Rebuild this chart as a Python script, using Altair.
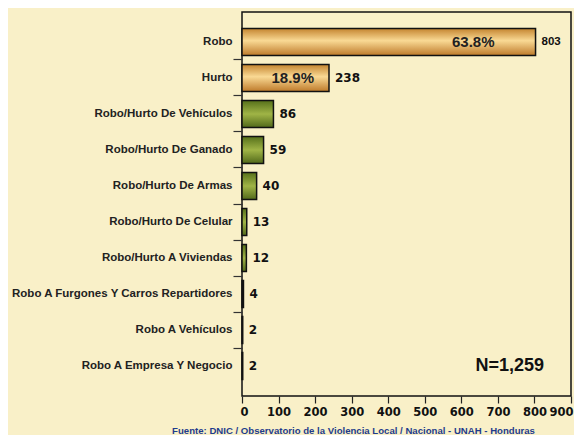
import altair as alt
import pandas as pd

categories = [
    "Robo", "Hurto", "Robo/Hurto De Vehículos", "Robo/Hurto De Ganado",
    "Robo/Hurto De Armas", "Robo/Hurto De Celular", "Robo/Hurto A Viviendas",
    "Robo A Furgones Y Carros Repartidores", "Robo A Vehículos",
    "Robo A Empresa Y Negocio",
]
values = [803, 238, 86, 59, 40, 13, 12, 4, 2, 2]
groups = ["top", "top", "g", "g", "g", "g", "g", "g", "g", "g"]
pct_labels = {"Robo": "63.8%", "Hurto": "18.9%"}
x_ticks = [0, 100, 200, 300, 400, 500, 600, 700, 800, 900]
total_label = "N=1,259"
footer = "Fuente: DNIC / Observatorio de la Violencia Local / Nacional - UNAH - Honduras"

df = pd.DataFrame({"cat": categories, "val": values, "grp": groups})
df["pct"] = df["cat"].map(pct_labels).fillna("")

BG = "#F9F0C8"
orange = {"gradient": "linear", "x1": 0, "y1": 0, "x2": 0, "y2": 1,
          "stops": [{"offset": 0, "color": "#C4842F"},
                    {"offset": 0.45, "color": "#F9D994"},
                    {"offset": 1, "color": "#BE7A2A"}]}
green = {"gradient": "linear", "x1": 0, "y1": 0, "x2": 0, "y2": 1,
         "stops": [{"offset": 0, "color": "#55701A"},
                   {"offset": 0.5, "color": "#A0B446"},
                   {"offset": 1, "color": "#51691A"}]}

y_axis = alt.Axis(bandPosition=0, domain=False, tickSize=9, tickWidth=1.2,
                  tickColor={"condition": {"test": "datum.value == 'Robo'", "value": "transparent"}, "value": "#333333"},
                  labelPadding=1, labelFont="Liberation Sans",
                  labelFontWeight="bold", labelFontSize=11.5,
                  labelColor="#222222", labelLimit=400)
y_scale = alt.Scale(paddingInner=0, paddingOuter=0.3333)
x_axis = alt.Axis(values=x_ticks, grid=False, domain=False,
                  tickSize=7, tickColor="#222222", tickWidth=1.2,
                  labelPadding=3, labelFont="DejaVu Sans",
                  labelFontWeight="bold", labelFontSize=11.5,
                  labelColor="#111111", labelOverlap=False,
                  labelFlush=True, labelFlushOffset=2)
x_scale = alt.Scale(domain=[0, 900], nice=False, zero=True)


def Y(field="cat:N"):
    return alt.Y(field, sort=categories, title=None, scale=y_scale, axis=y_axis)


def X(field="val:Q"):
    return alt.X(field, title=None, scale=x_scale, axis=x_axis)


base = alt.Chart(df)

bars_top = base.transform_filter("datum.grp == 'top'").mark_bar(
    height={"band": 0.75}, fill=orange, stroke="#111111", strokeWidth=1.5
).encode(x=X(), y=Y())

bars_g = base.transform_filter("datum.grp == 'g'").mark_bar(
    height={"band": 0.75}, fill=green, stroke="#111111", strokeWidth=1.5
).encode(x=X(), y=Y())

val_robo = base.transform_filter("datum.cat == 'Robo'").mark_text(
    align="left", dx=6, font="Liberation Sans", fontWeight="bold",
    fontSize=11.5, color="#111111"
).encode(x=X(), y=Y(), text="val:Q")

val_rest = base.transform_filter("datum.cat != 'Robo'").mark_text(
    align="left", dx=6, font="DejaVu Sans", fontWeight="bold",
    fontSize=12, color="#111111"
).encode(x=X(), y=Y(), text="val:Q")

pct_robo = base.transform_filter("datum.cat == 'Robo'").mark_text(
    align="right", dx=-41, font="Liberation Sans", fontWeight="bold",
    fontSize=15, color="#222222"
).encode(x=X(), y=Y(), text="pct:N")

pct_hurto = base.transform_filter("datum.cat == 'Hurto'").mark_text(
    align="right", dx=-15, font="Liberation Sans", fontWeight="bold",
    fontSize=15, color="#222222"
).encode(x=X(), y=Y(), text="pct:N")

n_df = pd.DataFrame({"t": [total_label], "nx": [826], "cat": [categories[-1]]})
n_text = alt.Chart(n_df).mark_text(
    align="right", font="Liberation Sans", fontWeight="bold", fontSize=18,
    color="#111111"
).encode(x=X("nx:Q"), y=Y(), text="t:N")

foot = alt.Chart(pd.DataFrame({"t": [footer]})).mark_text(
    align="center", baseline="middle", font="Liberation Sans",
    fontWeight="bold", fontSize=9.6, color="#1F3C8C"
).encode(x=alt.value(111.5), y=alt.value(419), text="t:N")

chart = alt.layer(bars_top, bars_g, val_robo, val_rest, pct_robo, pct_hurto,
                  n_text, foot).properties(
    width=329, height=384,
    autosize=alt.AutoSizeParams(type="none"),
    padding={"left": 234, "top": 4, "right": 3, "bottom": 39},
    background=BG,
).configure_view(stroke="#111111", strokeWidth=1.5)

chart.save("out.html", embed_options={"renderer": "svg", "actions": False})
